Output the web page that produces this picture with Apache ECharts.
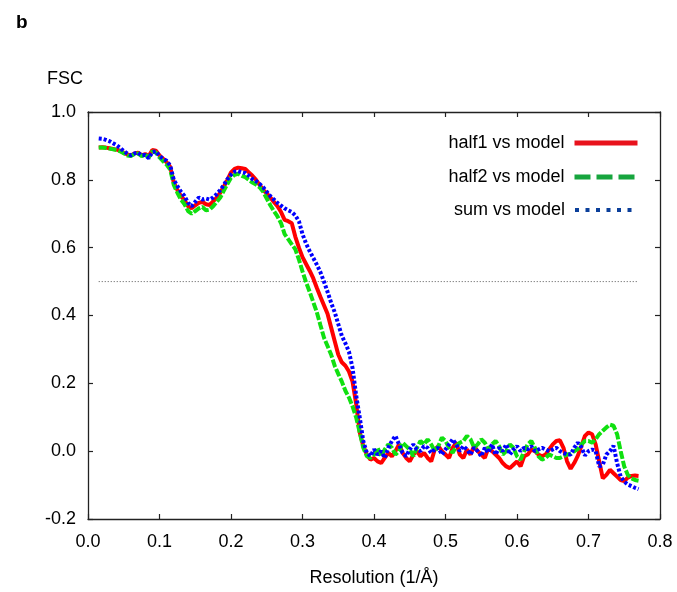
<!DOCTYPE html>
<html>
<head>
<meta charset="utf-8">
<script src="https://cdn.jsdelivr.net/npm/echarts@6/dist/echarts.min.js"></script>
<style>html,body{margin:0;padding:0;background:#fff;}#c{width:677px;height:592px;}</style>
</head>
<body>
<div id="c"></div>
<script>
// Resolution (1/Å) sampling grid
const resolution = [
0.015,0.020,0.025,0.030,0.035,0.040,0.045,0.050,0.055,0.060,
0.065,0.070,0.075,0.080,0.085,0.090,0.095,0.100,0.105,0.110,
0.115,0.120,0.125,0.130,0.135,0.140,0.145,0.150,0.155,0.160,
0.165,0.170,0.175,0.180,0.185,0.190,0.195,0.200,0.205,0.210,
0.215,0.220,0.225,0.230,0.235,0.240,0.245,0.250,0.255,0.260,
0.265,0.270,0.275,0.280,0.285,0.290,0.295,0.300,0.305,0.310,
0.315,0.320,0.325,0.330,0.335,0.340,0.345,0.350,0.355,0.360,
0.365,0.370,0.375,0.380,0.385,0.390,0.395,0.400,0.405,0.410,
0.415,0.420,0.425,0.430,0.435,0.440,0.445,0.450,0.455,0.460,
0.465,0.470,0.475,0.480,0.485,0.490,0.495,0.500,0.505,0.510,
0.515,0.520,0.525,0.530,0.535,0.540,0.545,0.550,0.555,0.560,
0.565,0.570,0.575,0.580,0.585,0.590,0.595,0.600,0.605,0.610,
0.615,0.620,0.625,0.630,0.635,0.640,0.645,0.650,0.655,0.660,
0.665,0.670,0.675,0.680,0.685,0.690,0.695,0.700,0.705,0.710,
0.715,0.720,0.725,0.730,0.735,0.740,0.745,0.750,0.755,0.760,
0.765,0.770];

const half1 = [
0.895,0.896,0.895,0.893,0.891,0.889,0.886,0.880,0.875,0.872,
0.878,0.880,0.872,0.876,0.870,0.888,0.886,0.872,0.862,0.852,
0.838,0.792,0.770,0.752,0.740,0.722,0.716,0.725,0.732,0.735,
0.728,0.726,0.736,0.748,0.762,0.780,0.800,0.822,0.832,0.836,
0.834,0.832,0.822,0.812,0.800,0.785,0.770,0.760,0.748,0.735,
0.722,0.705,0.682,0.678,0.672,0.632,0.600,0.572,0.552,0.532,
0.510,0.482,0.455,0.430,0.405,0.365,0.325,0.285,0.262,0.252,
0.235,0.205,0.140,0.056,0.015,-0.010,-0.025,-0.020,-0.030,-0.035,
-0.020,-0.005,-0.015,0.000,0.020,-0.005,-0.020,-0.030,-0.010,0.000,
-0.015,-0.005,-0.020,-0.030,0.005,0.015,0.000,-0.010,-0.020,0.010,
0.025,-0.010,-0.020,0.005,-0.010,0.015,0.000,-0.010,-0.020,0.010,
0.000,-0.010,-0.020,-0.035,-0.045,-0.050,-0.040,-0.030,-0.045,-0.015,
-0.010,0.005,0.000,-0.010,-0.015,-0.010,0.005,0.020,0.030,0.032,
0.010,-0.030,-0.052,-0.035,-0.014,0.015,0.045,0.055,0.050,0.020,
-0.030,-0.080,-0.070,-0.055,-0.065,-0.075,-0.085,-0.088,-0.078,-0.073,
-0.072,-0.073];

const half2 = [
0.895,0.895,0.894,0.892,0.890,0.888,0.884,0.878,0.872,0.870,
0.876,0.878,0.870,0.874,0.866,0.884,0.880,0.866,0.855,0.845,
0.830,0.785,0.762,0.742,0.728,0.708,0.700,0.708,0.716,0.720,
0.710,0.712,0.722,0.735,0.748,0.768,0.788,0.806,0.815,0.818,
0.812,0.808,0.800,0.792,0.786,0.778,0.765,0.745,0.725,0.708,
0.692,0.672,0.640,0.625,0.610,0.595,0.565,0.530,0.498,0.470,
0.440,0.410,0.372,0.335,0.310,0.285,0.252,0.228,0.205,0.178,
0.158,0.132,0.100,0.056,0.010,-0.015,-0.020,-0.010,0.010,-0.015,
0.005,0.020,0.010,-0.010,0.000,0.025,0.015,0.005,-0.015,0.010,
0.030,0.020,0.035,0.020,0.000,0.015,0.040,0.030,0.010,-0.005,
0.015,0.025,0.030,0.045,0.035,0.010,0.020,0.035,0.025,0.005,
0.020,0.030,0.015,-0.010,0.000,0.020,0.010,-0.015,-0.025,0.000,
0.020,0.030,0.010,-0.015,-0.025,-0.020,-0.010,-0.015,-0.020,-0.020,
-0.015,-0.010,-0.008,0.000,0.006,0.020,0.030,0.030,0.025,0.035,
0.050,0.060,0.070,0.078,0.075,0.050,0.000,-0.045,-0.070,-0.080,
-0.085,-0.087];

const sum = [
0.922,0.921,0.918,0.914,0.908,0.902,0.894,0.885,0.877,0.872,
0.878,0.880,0.872,0.873,0.864,0.882,0.884,0.870,0.862,0.856,
0.842,0.800,0.782,0.765,0.752,0.732,0.722,0.735,0.748,0.742,
0.745,0.742,0.748,0.758,0.770,0.785,0.802,0.815,0.824,0.826,
0.822,0.820,0.812,0.802,0.796,0.788,0.778,0.765,0.752,0.742,
0.732,0.724,0.716,0.710,0.705,0.695,0.678,0.640,0.612,0.590,
0.570,0.550,0.528,0.500,0.470,0.438,0.410,0.375,0.340,0.318,
0.293,0.245,0.165,0.100,0.030,-0.005,-0.015,0.005,-0.010,0.000,
-0.020,0.010,0.030,0.045,0.020,-0.005,-0.015,0.005,0.020,0.005,
0.000,0.015,0.010,-0.005,0.005,0.010,-0.010,0.005,0.020,0.035,
0.020,0.000,0.015,0.005,-0.010,0.010,0.000,-0.015,0.010,-0.005,
0.020,-0.010,0.010,0.000,0.020,-0.010,0.005,0.015,0.000,0.010,
0.005,0.015,0.000,0.005,0.010,0.005,0.000,0.005,0.010,0.000,
-0.005,-0.010,-0.010,0.010,0.025,0.012,-0.013,0.000,0.005,0.000,
-0.045,-0.040,-0.010,0.000,0.016,-0.035,-0.075,-0.090,-0.098,-0.103,
-0.108,-0.112];

// 0.5 threshold reference line
const refX = [0.015, 0.77];
const refY = [0.5, 0.5];

const seriesNames = ['half1 vs model', 'half2 vs model', 'sum vs model'];
const xTicks = [0, 0.8, 0.1];
const yTicks = [-0.2, 1.0, 0.2];

const FONT = "'Liberation Sans', Arial, sans-serif";
const pair = (xs, ys) => xs.map((x, i) => [x, ys[i]]);

const chart = echarts.init(document.getElementById('c'));
const axisLine = {show: true, onZero: false, lineStyle: {color: '#222', width: 1.3}};
const tick = {show: true, inside: true, length: 5, lineStyle: {color: '#222', width: 1.2}};
const lbl = {color: '#000', fontSize: 18, fontFamily: FONT, formatter: v => Number(v).toFixed(1)};

function legendFor(name, top, ls) {
  return {
    data: [name], right: 37, top: top, orient: 'horizontal', align: 'right',
    padding: 0, itemWidth: 63, itemHeight: 14, selectedMode: false,
    itemStyle: {opacity: 0},
    textStyle: {fontSize: 18, fontFamily: FONT, color: '#000', padding: [0, 5, 0, 0]},
    lineStyle: ls
  };
}

chart.setOption({
  animation: false,
  backgroundColor: '#fff',
  title: [
    {text: 'b', left: 11, top: 8, textStyle: {fontSize: 19, fontWeight: 'bold', fontFamily: FONT, color: '#000'}},
    {text: 'FSC', left: 42, top: 65, textStyle: {fontSize: 18, fontWeight: 'normal', fontFamily: FONT, color: '#000'}}
  ],
  grid: {left: 88, right: 17, top: 112, bottom: 73},
  legend: [
    legendFor(seriesNames[0], 134, {color: '#e8121c', width: 5, type: 'solid'}),
    legendFor(seriesNames[1], 168, {color: '#17a53e', width: 5, type: [16, 6]}),
    legendFor(seriesNames[2], 201, {color: '#0b3f9a', width: 4, type: [4, 6.5]})
  ],
  xAxis: [
    {type: 'value', position: 'bottom', min: xTicks[0], max: xTicks[1], interval: xTicks[2],
     axisLine, axisTick: tick, splitLine: {show: false},
     axisLabel: Object.assign({margin: 14}, lbl),
     name: 'Resolution (1/Å)', nameLocation: 'middle', nameGap: 50,
     nameTextStyle: {fontSize: 18, fontFamily: FONT, color: '#000'}},
    {type: 'value', position: 'top', min: xTicks[0], max: xTicks[1], interval: xTicks[2],
     axisLine, axisTick: tick, splitLine: {show: false}, axisLabel: {show: false}}
  ],
  yAxis: [
    {type: 'value', position: 'left', min: yTicks[0], max: yTicks[1], interval: yTicks[2],
     axisLine, axisTick: tick, splitLine: {show: false},
     axisLabel: Object.assign({margin: 12}, lbl)},
    {type: 'value', position: 'right', min: yTicks[0], max: yTicks[1], interval: yTicks[2],
     axisLine, axisTick: tick, splitLine: {show: false}, axisLabel: {show: false}}
  ],
  series: [
    {name: 'ref', type: 'line', data: pair(refX, refY), symbol: 'none', silent: true,
     lineStyle: {color: '#555', width: 1, type: [1, 2]}, z: 1},
    {name: seriesNames[0], type: 'line', data: pair(resolution, half1), symbol: 'none',
     color: '#ff0000', lineStyle: {color: '#ff0000', width: 4}, z: 2},
    {name: seriesNames[1], type: 'line', data: pair(resolution, half2), symbol: 'none',
     color: '#10e010', lineStyle: {color: '#10e010', width: 4, type: [8, 2]}, z: 3},
    {name: seriesNames[2], type: 'line', data: pair(resolution, sum), symbol: 'none',
     color: '#0000ff', lineStyle: {color: '#0000ff', width: 4, type: [3, 2]}, z: 4}
  ]
});
</script>
</body>
</html>
